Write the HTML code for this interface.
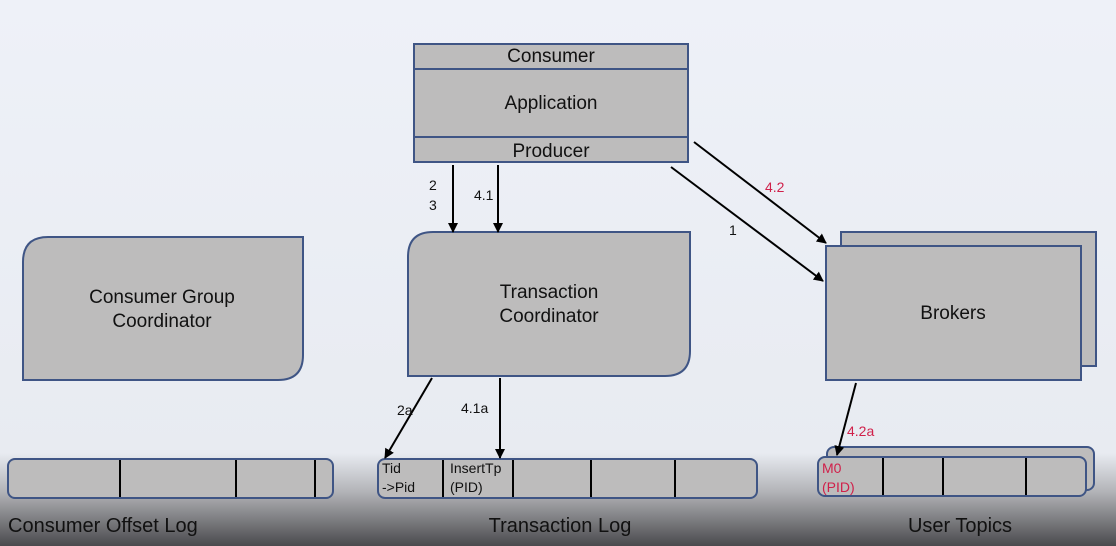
<!DOCTYPE html>
<html><head><style>body{margin:0}svg{display:block}</style></head><body>
<svg width="1116" height="546" xmlns="http://www.w3.org/2000/svg" font-family="Liberation Sans, DejaVu Sans, sans-serif">
<defs>
<linearGradient id="bg" x1="0" y1="0" x2="0" y2="1">
<stop offset="0" stop-color="#eef1f8"/><stop offset="0.83" stop-color="#e8ebf1"/><stop offset="0.9" stop-color="#b3b4b8"/><stop offset="1" stop-color="#4a4a4d"/>
</linearGradient>
<marker id="a" markerWidth="10" markerHeight="10" refX="9" refY="5" orient="auto" markerUnits="userSpaceOnUse"><path d="M0,0 L10,5 L0,10 z" fill="#000"/></marker>
</defs>
<rect width="1116" height="546" fill="url(#bg)"/>
<g fill="#bdbcbc" stroke="#3f5585" stroke-width="2">
<rect x="414" y="44" width="274" height="118"/>
<line x1="414" y1="69" x2="688" y2="69"/><line x1="414" y1="137" x2="688" y2="137"/>
<path d="M48,237 H303 V355 Q303,380 278,380 H23 V262 Q23,237 48,237 Z"/>
<path d="M433,232 H690 V351 Q690,376 665,376 H408 V257 Q408,232 433,232 Z"/>
<rect x="841" y="232" width="255" height="134"/>
<rect x="826" y="246" width="255" height="134"/>
<rect x="8" y="459" width="325" height="39" rx="7"/>
<rect x="378" y="459" width="379" height="39" rx="7"/>
<rect x="827" y="447" width="267" height="43" rx="7"/>
<rect x="818" y="457" width="268" height="39" rx="7"/>
</g>
<g stroke="#000" stroke-width="2">
<line x1="120" y1="460" x2="120" y2="497"/><line x1="236" y1="460" x2="236" y2="497"/><line x1="315" y1="460" x2="315" y2="497"/>
<line x1="443" y1="460" x2="443" y2="497"/><line x1="513" y1="460" x2="513" y2="497"/><line x1="591" y1="460" x2="591" y2="497"/><line x1="675" y1="460" x2="675" y2="497"/>
<line x1="883" y1="458" x2="883" y2="495"/><line x1="943" y1="458" x2="943" y2="495"/><line x1="1026" y1="458" x2="1026" y2="495"/>
</g>
<g stroke="#000" stroke-width="2" marker-end="url(#a)">
<line x1="453" y1="165" x2="453" y2="232"/>
<line x1="498" y1="165" x2="498" y2="232"/>
<line x1="671" y1="167" x2="823" y2="281"/>
<line x1="694" y1="142" x2="826" y2="243"/>
<line x1="432" y1="378" x2="385" y2="458"/>
<line x1="500" y1="378" x2="500" y2="458"/>
<line x1="856" y1="383" x2="837" y2="455"/>
</g>
<g fill="#111" font-size="19" text-anchor="middle">
<text x="551" y="62">Consumer</text>
<text x="551" y="109">Application</text>
<text x="551" y="157">Producer</text>
<text x="162" y="303">Consumer Group</text>
<text x="162" y="327">Coordinator</text>
<text x="549" y="298">Transaction</text>
<text x="549" y="322">Coordinator</text>
<text x="953" y="319">Brokers</text>
</g>
<g fill="#111" font-size="14">
<text x="429" y="190">2</text><text x="429" y="210">3</text>
<text x="474" y="200">4.1</text>
<text x="729" y="235">1</text>
<text x="397" y="415">2a</text>
<text x="461" y="413">4.1a</text>
<text x="382" y="473">Tid</text><text x="382" y="492">-&gt;Pid</text>
<text x="450" y="473">InsertTp</text><text x="450" y="492">(PID)</text>
</g>
<g fill="#d0204a" font-size="14">
<text x="765" y="192">4.2</text>
<text x="847" y="436">4.2a</text>
<text x="822" y="473">M0</text><text x="822" y="492">(PID)</text>
</g>
<g fill="#111" font-size="20">
<text x="8" y="532">Consumer Offset Log</text>
<text x="560" y="532" text-anchor="middle">Transaction Log</text>
<text x="960" y="532" text-anchor="middle">User Topics</text>
</g>
</svg>
</body></html>
